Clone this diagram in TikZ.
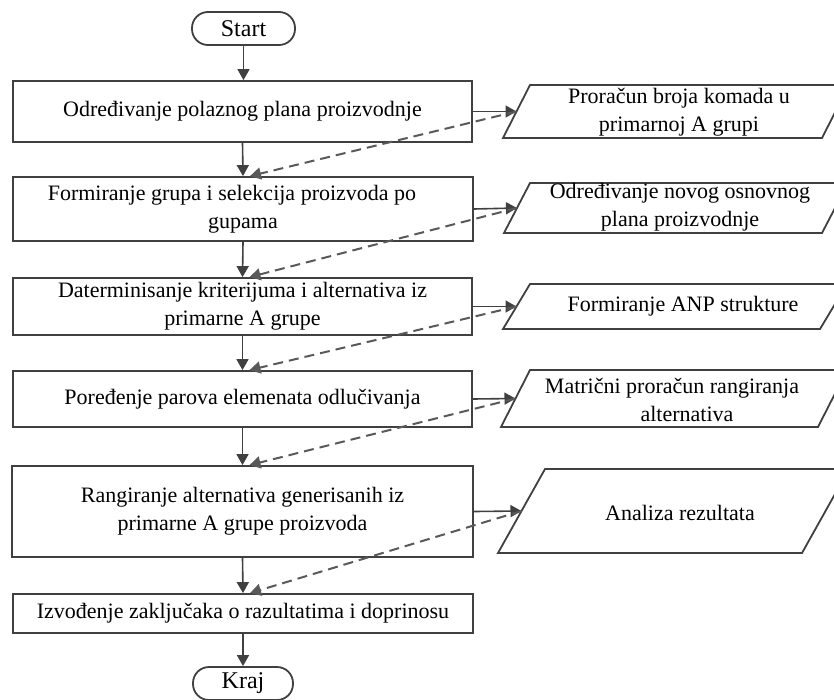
\documentclass[tikz,border=0pt]{standalone}
\usepackage{fontspec}
\setmainfont{Liberation Serif}
\usetikzlibrary{arrows.meta}
\begin{document}
\begin{tikzpicture}[x=1pt,y=-1pt,
  line/.style={draw=black!75, line width=1.8pt},
  txt/.style={font=\fontsize{22}{28}\selectfont, align=center, inner sep=0pt},
  box/.style={line, rectangle, txt},
  term/.style={line, rectangle, rounded corners=16pt, font=\fontsize{24}{28}\selectfont, inner sep=0pt},
  arr/.style={draw=black!75, line width=1.6pt, -{Triangle[length=11pt,width=12pt]}},
  darr/.style={draw=black!65, line width=2pt, dash pattern=on 10pt off 6pt, -{Triangle[length=11pt,width=12pt]}},
  para/.style={line, line join=miter}]
\useasboundingbox (0,0) rectangle (834,699);
\clip (0,0) rectangle (834,699);

% terminals
\node[term, minimum width=103pt, minimum height=33pt] (start) at (243.5,28.5) {Start};
\node[term, minimum width=100pt, minimum height=33pt] (kraj) at (243,683.5) {Kraj};

% process boxes
\node[box, minimum width=459pt, minimum height=61pt] (b1) at (242.5,111.5) {Određivanje polaznog plana proizvodnje};
\node[box, minimum width=460pt, minimum height=64pt] (b2) at (243,209) {Formiranje grupa i selekcija proizvoda po\hspace*{22pt}\\gupama};
\node[box, minimum width=459pt, minimum height=57pt] (b3) at (242.5,306.5) {Daterminisanje kriterijuma i alternativa iz\\primarne A grupe};
\node[box, minimum width=459pt, minimum height=56pt] (b4) at (242.5,399) {Poređenje parova elemenata odlučivanja};
\node[box, minimum width=461pt, minimum height=91pt] (b5) at (242.5,511.5) {Rangiranje alternativa generisanih iz\\primarne A grupe proizvoda};
\node[box, minimum width=460pt, minimum height=39pt] (b6) at (243,613.5) {Izvođenje zaključaka o razultatima i doprinosu};

% parallelograms
\draw[para] (503,138) -- (530,85) -- (849,85) -- (822,138) -- cycle;
\coordinate (p1w) at (516.5,111.5);
\node[txt] (p1) at (679,112) {Proračun broja komada u\\primarnoj A grupi};

\draw[para] (504,233) -- (530,183) -- (848,183) -- (822,233) -- cycle;
\coordinate (p2w) at (517,208);
\node[txt] (p2) at (680,207) {Određivanje novog osnovnog\\plana proizvodnje};

\draw[para] (503,329) -- (530,284) -- (847,284) -- (820,329) -- cycle;
\coordinate (p3w) at (516.5,306.5);
\node[txt] (p3) at (683,306) {Formiranje ANP strukture};

\draw[para] (501,427) -- (530,370) -- (847,370) -- (818,427) -- cycle;
\coordinate (p4w) at (515.5,398.5);
\node[txt] (p4) at (672,400) {Matrični proračun rangiranja\\\hspace*{30pt}alternativa};

\draw[para] (498,553) -- (545,469) -- (849,469) -- (802,553) -- cycle;
\coordinate (p5w) at (521.5,511);
\node[txt] (p5) at (680,513) {Analiza rezultata};

% main flow
\draw[arr] (start.south) -- (start.south |- b1.north);
\draw[arr] (b1.south) -- (b2.north);
\draw[arr] (b2.south) -- (b3.north);
\draw[arr] (b3.south) -- (b4.north);
\draw[arr] (b4.south) -- (b5.north);
\draw[arr] (b5.south) -- (b6.north);
\draw[arr] (b6.south) -- (kraj.north);

% side outputs
\draw[arr] (b1.east) -- (p1w);
\draw[arr] (b2.east) -- (p2w);
\draw[arr] (b3.east) -- (p3w);
\draw[arr] (b4.east) -- (p4w);
\draw[arr] (b5.east) -- (p5w);

% feedback dashed
\draw[darr] (p1w) -- ([xshift=7pt]b2.north);
\draw[darr] (p2w) -- ([xshift=7pt]b3.north);
\draw[darr] (p3w) -- ([xshift=7pt]b4.north);
\draw[darr] (p4w) -- ([xshift=7pt]b5.north);
\draw[darr] (p5w) -- ([xshift=7pt]b6.north);
\end{tikzpicture}
\end{document}
